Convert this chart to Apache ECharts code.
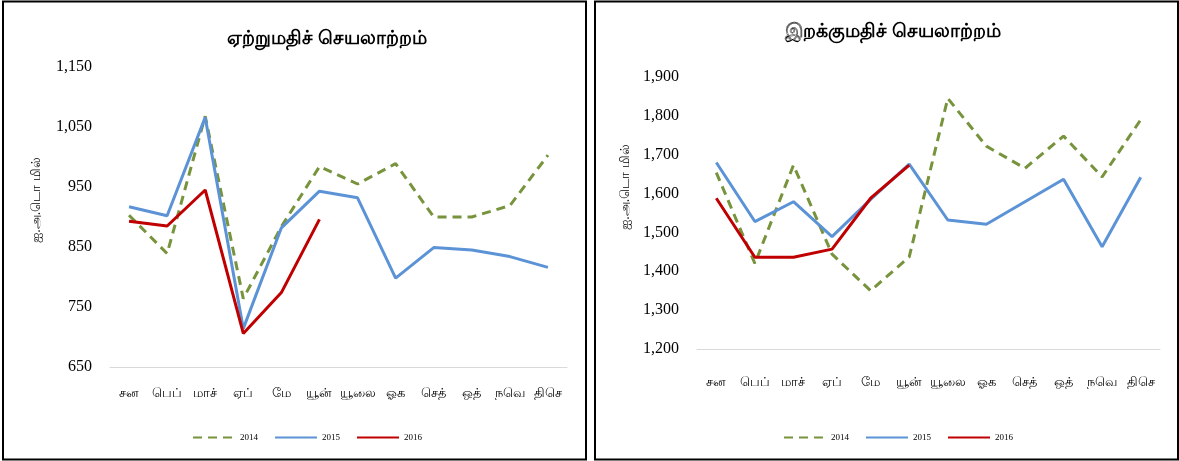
<!DOCTYPE html>
<html><head><meta charset="utf-8">
<script src="https://cdn.jsdelivr.net/npm/echarts@6/dist/echarts.min.js"></script>
<style>html,body{margin:0;padding:0;background:#fff}#c{width:1179px;height:461px}</style>
</head><body><div id="c"></div>
<script>
const months = ['சன','பெப்','மாச்','ஏப்','மே','யூன்','யூலை','ஓக','செத்','ஒத்','நவெ','திசெ'];
const exp2014 = [903, 839, 1068, 764, 884, 984, 955, 989, 900, 900, 919, 1003];
const exp2015 = [917, 902, 1066, 714, 882, 943, 932, 798, 849, 845, 834, 816];
const exp2016 = [893, 885, 945, 706, 774, 896];
const imp2014 = [1654, 1420, 1673, 1444, 1350, 1437, 1845, 1722, 1665, 1748, 1643, 1790];
const imp2015 = [1680, 1528, 1579, 1489, 1585, 1676, 1532, 1521, 1579, 1637, 1463, 1642];
const imp2016 = [1588, 1436, 1436, 1457, 1588, 1673];
const leftTitle = 'ஏற்றுமதிச் செயலாற்றம்';
const rightTitle = 'இறக்குமதிச் செயலாற்றம்';
const yName = 'ஐ.அ.டொ மில்';
const years = ['2014','2015','2016'];

const colors = ['#77933C', '#5B93D6', '#C00000'];
const fmt = v => v.toLocaleString('en-US');
const chart = echarts.init(document.getElementById('c'));

function xAxis(gi, margin){
  return {type:'category', gridIndex:gi, data:months, boundaryGap:true,
    axisLine:{lineStyle:{color:'#D9D9D9', width:1}}, axisTick:{show:false},
    axisLabel:{color:'#000', fontSize:12.5, margin:margin, interval:0, fontFamily:'Noto Sans, sans-serif'}};
}
function yAxis(gi, min, max){
  return {type:'value', gridIndex:gi, min:min, max:max, interval:100,
    axisLine:{show:false}, axisTick:{show:false}, splitLine:{show:false},
    axisLabel:{color:'#000', fontSize:16, margin:18, fontFamily:'Liberation Serif, serif', formatter:fmt}};
}
function ser(name, data, gi, ci){
  return {name:name, type:'line', xAxisIndex:gi, yAxisIndex:gi, data:data,
    symbol:'none', smooth:false, color:colors[ci],
    lineStyle:{width:3, color:colors[ci], type: ci===0 ? [9,6] : 'solid'}};
}
function legend(cx){
  return {data:years, left:cx, top:428, itemWidth:42, itemHeight:10, itemGap:16,
    itemStyle:{opacity:0},
    textStyle:{fontSize:9, color:'#000', fontFamily:'Liberation Serif, serif'}};
}
function yTitle(x, y){
  return {type:'text', x:x, y:y, rotation:Math.PI/2,
    style:{text:yName, fill:'#000', font:'13px "Noto Sans", sans-serif', align:'center', verticalAlign:'middle'}};
}

chart.setOption({
  animation:false,
  title:[
    {text:leftTitle, left:322, top:24, textAlign:'center',
      textStyle:{fontSize:19, fontWeight:'bold', color:'#000', fontFamily:'Noto Sans, sans-serif'}},
    {text:rightTitle, left:888, top:17, textAlign:'center',
      textStyle:{fontSize:19, fontWeight:'bold', color:'#000', fontFamily:'Noto Sans, sans-serif'}}
  ],
  legend:[legend(187), legend(778)],
  grid:[
    {left:110, top:67, width:457, height:300},
    {left:697, top:77, width:463, height:272}
  ],
  xAxis:[xAxis(0, 20), xAxis(1, 27)],
  yAxis:[yAxis(0, 650, 1150), yAxis(1, 1200, 1900)],
  series:[
    ser('2014', exp2014, 0, 0), ser('2015', exp2015, 0, 1), ser('2016', exp2016, 0, 2),
    ser('2014', imp2014, 1, 0), ser('2015', imp2015, 1, 1), ser('2016', imp2016, 1, 2)
  ],
  graphic:[
    {type:'rect', shape:{x:3, y:1.5, width:583, height:458}, style:{fill:'none', stroke:'#000', lineWidth:2}, z:-1},
    {type:'rect', shape:{x:595, y:1.5, width:583, height:458}, style:{fill:'none', stroke:'#000', lineWidth:2}, z:-1},
    yTitle(36, 200),
    yTitle(625, 187)
  ]
});
</script></body></html>
